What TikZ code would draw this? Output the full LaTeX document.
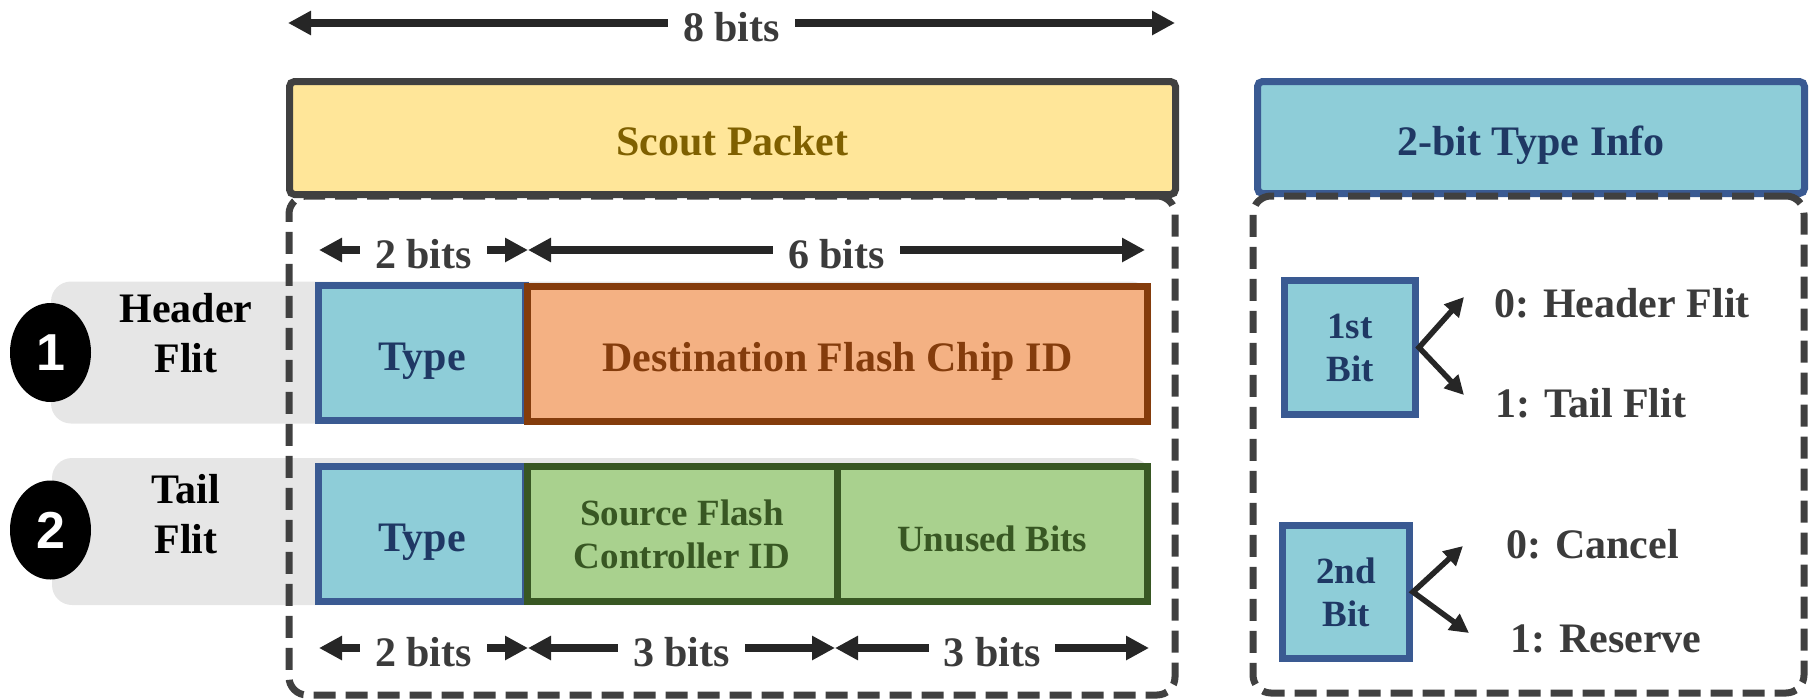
\documentclass[tikz,border=0pt]{standalone}
\usepackage{fontspec}
\setmainfont{Liberation Serif}
\newfontfamily\circfont{Liberation Sans}
\usetikzlibrary{arrows.meta,shapes.geometric}
\definecolor{scoutfill}{HTML}{FFE699}
\definecolor{scouttext}{HTML}{7F6000}
\definecolor{darkline}{HTML}{404040}
\definecolor{typefill}{HTML}{8ECDD8}
\definecolor{typeline}{HTML}{3A5A92}
\definecolor{typetext}{HTML}{1F3864}
\definecolor{destfill}{HTML}{F4B183}
\definecolor{destline}{HTML}{843C0C}
\definecolor{greenfill}{HTML}{A9D18E}
\definecolor{greenline}{HTML}{385723}
\definecolor{backgray}{HTML}{E6E6E6}
\definecolor{arrowcol}{HTML}{262626}
\definecolor{labelcol}{HTML}{3B3B3B}
\newcommand\FontBig{\fontsize{42pt}{50pt}\selectfont\bfseries}
\newcommand\FontMid{\fontsize{37pt}{43pt}\selectfont\bfseries}
\newcommand\FontCirc{\circfont\bfseries\fontsize{52pt}{52pt}\selectfont}
\tikzset{
  box/.style={rectangle, draw, line width=7pt, inner sep=0pt},
  single/.style={text height=35pt, text depth=0pt, font=\FontBig},
  scoutbox/.style={box, draw=darkline, fill=scoutfill, text=scouttext, rounded corners=5pt, single},
  infobox/.style={box, draw=typeline, fill=typefill, text=typetext, rounded corners=5pt, single},
  typebox/.style={box, draw=typeline, fill=typefill, text=typetext, single},
  destbox/.style={box, draw=destline, fill=destfill, text=destline, single},
  greenbox/.style={box, draw=greenline, fill=greenfill, text=greenline},
  bitbox/.style={box, draw=typeline, fill=typefill, text=typetext, font=\FontMid, align=center},
  dashbox/.style={rectangle, draw=darkline, line width=7pt, dash pattern=on 22pt off 10pt, rounded corners=18pt, inner sep=0pt},
  backdrop/.style={rectangle, fill=backgray, rounded corners=20pt, inner sep=0pt, outer sep=0pt},
  circ/.style={ellipse, fill=black, minimum width=81pt, minimum height=99pt, inner sep=0pt, text=white, font=\FontCirc},
  flitlabel/.style={font=\FontBig, align=center, text=black, inner sep=0pt},
  dim/.style={draw=arrowcol, line width=7.5pt, {Triangle[length=23pt,width=23pt]}-{Triangle[length=23pt,width=23pt]}},
  dimlabel/.style={fill=white, text=labelcol, font=\FontBig, inner xsep=15pt, inner ysep=2pt, anchor=base, yshift=-18pt},
  bitarrow/.style={draw=arrowcol, line width=5.5pt, line join=miter, {Triangle[length=19pt,width=19pt]}-{Triangle[length=19pt,width=19pt]}},
  opt/.style={font=\FontBig, text=labelcol, anchor=base west, inner sep=0pt}
}
\begin{document}
\begin{tikzpicture}[x=1pt,y=-1pt]
\useasboundingbox (0,0) rectangle (1812,699);
% grey row backdrops
\node[backdrop, minimum width=1100pt, minimum height=142pt] (hback) at (601,352.5) {};
\node[backdrop, minimum width=1099pt, minimum height=147pt] (tback) at (601.5,531.5) {};
% dashed frames (left)
\node[dashbox, minimum width=886pt, minimum height=499pt] (leftframe) at (732,445.5) {};
% scout packet
\node[scoutbox, minimum width=886pt, minimum height=113pt] (scout) at (732.5,138) {Scout Packet};
% header flit row
\node[typebox, minimum width=207pt, minimum height=135pt] (type1) at (422,353) {Type};
\node[destbox, minimum width=620.5pt, minimum height=135pt] (dest) at (837.25,353.5) {Destination Flash Chip ID};
% tail flit row
\node[typebox, minimum width=207pt, minimum height=135pt] (type2) at (422,534) {Type};
\node[greenbox, minimum width=310pt, minimum height=135pt, font=\FontMid, align=center] (src) at (682,534) {Source Flash\\Controller ID};
\node[greenbox, minimum width=310.5pt, minimum height=135pt, text height=35pt, text depth=0pt, font=\FontMid] (unused) at (992.25,534) {Unused Bits};
% circles and labels
\node[circ] (c1) at (50.5,352.5) {1};
\node[circ] (c2) at (50.5,530) {2};
\node[flitlabel] (hlab) at (186,332.75) {Header\\Flit};
\node[flitlabel] (tlab) at (186,513.75) {Tail\\Flit};
% dimension arrows
\coordinate (d8l) at (288,23);
\coordinate (d8r) at (1175,23);
\draw[dim] (d8l) -- (d8r) node[midway, dimlabel] (l8) {8 bits};
\coordinate (r1a) at (319,250);
\coordinate (r1b) at (528,250);
\coordinate (r1c) at (1145,250);
\draw[dim] (r1a) -- (r1b) node[midway, dimlabel] (l2a) {2 bits};
\draw[dim] (r1b) -- (r1c) node[midway, dimlabel] (l6) {6 bits};
\coordinate (r3a) at (319,648);
\coordinate (r3b) at (528,648);
\coordinate (r3c) at (835,648);
\coordinate (r3d) at (1149,648);
\draw[dim] (r3a) -- (r3b) node[midway, dimlabel] (l2b) {2 bits};
\draw[dim] (r3b) -- (r3c) node[midway, dimlabel] (l3a) {3 bits};
\draw[dim] (r3c) -- (r3d) node[midway, dimlabel] (l3b) {3 bits};
% type info panel
\node[infobox, minimum width=547pt, minimum height=112pt] (info) at (1531,137.5) {2-bit Type Info};
\node[dashbox, minimum width=551pt, minimum height=497pt] (rightframe) at (1528.5,444.5) {};
\node[bitbox, minimum width=131pt, minimum height=134pt] (bit1) at (1350,347.5) {1st\\Bit};
\node[bitbox, minimum width=127pt, minimum height=133pt] (bit2) at (1346,592) {2nd\\Bit};
\coordinate (b1u) at (1464,297);
\coordinate (b1d) at (1464,395);
\coordinate (b2u) at (1463,546);
\coordinate (b2d) at (1469,633);
\draw[bitarrow] (b1u) -- (bit1.east) -- (b1d);
\draw[bitarrow] (b2u) -- (bit2.east) -- (b2d);
\node[opt] (o1) at (1494,317) {0: Header Flit};
\node[opt] (o2) at (1495,417) {1: Tail Flit};
\node[opt] (o3) at (1506,558) {0: Cancel};
\node[opt] (o4) at (1510,652) {1: Reserve};
\end{tikzpicture}
\end{document}
